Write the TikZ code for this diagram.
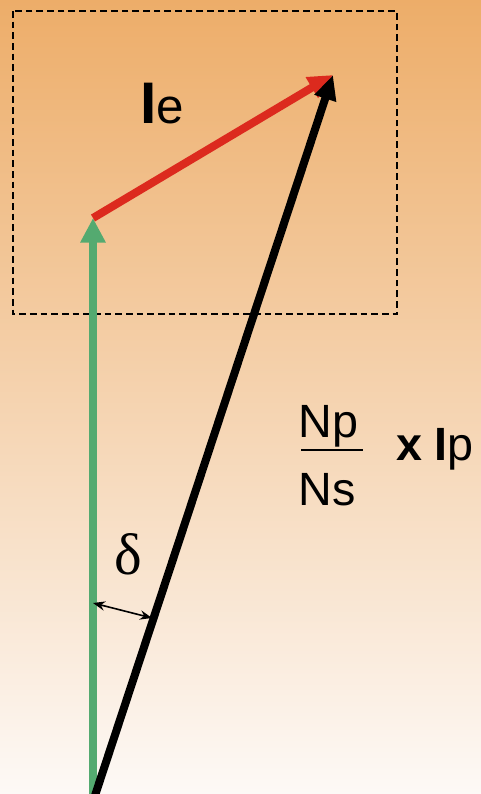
\documentclass[tikz,border=0pt]{standalone}
\usepackage{fontspec}
\setmainfont{Liberation Sans}
\newfontfamily\serifdelta{Liberation Serif}
\usetikzlibrary{arrows.meta}
\definecolor{bgtop}{RGB}{237,173,105}
\definecolor{bgbot}{RGB}{253,249,246}
\definecolor{vgreen}{RGB}{84,170,112}
\definecolor{vred}{RGB}{220,42,30}
\tikzset{
  vec/.style={line width=6pt},
  lbl/.style={inner sep=0pt, outer sep=0pt, text=black},
  ratio/.style={lbl, anchor=base west, font=\fontsize{35}{35}\selectfont},
}
\begin{document}
\begin{tikzpicture}[x=0.75pt,y=-0.75pt]
\useasboundingbox (0,0) rectangle (481,794);
\shade[top color=bgtop, bottom color=bgbot] (0,0) rectangle (481,794);
\draw[black, line width=1.1pt, dash pattern=on 5pt off 3pt] (13,11) rectangle (397,314);
% points
\coordinate (O) at (93,797);
\coordinate (G) at (93,218);
\coordinate (T) at (333,75);
\coordinate (Ob) at (94.5,797);
% vectors
\draw[vec, vgreen, -{Triangle[length=18.5pt,width=18pt]}] (O) -- (G);
\draw[vec, vred, -{Triangle[length=18.5pt,width=17pt]}] (G) -- (T);
\draw[vec, black, -{Triangle[length=18.5pt,width=16pt]}] (Ob) -- (T);
% labels
\node[lbl, anchor=base west] (Ie) at (140,123) {\fontsize{44}{44}\selectfont\textbf{I}\fontsize{37}{37}\selectfont e};
\node[ratio] (Np) at (298.5,437) {Np};
\node[ratio] (Ns) at (298.5,505) {Ns};
\coordinate (fl) at (301,450);
\coordinate (fr) at (363,450);
\draw[black, line width=2.2pt] (fl) -- (fr);
\node[ratio] (xIp) at (396,460) {\textbf{x I}p};
\node[lbl, anchor=base] (delta) at (128,574) {\serifdelta\fontsize{44}{44}\selectfont δ};
% angle arrow
\coordinate (da) at (93,603);
\coordinate (db) at (152,618);
\draw[black, line width=1.2pt, {Stealth[length=9pt,width=7pt]}-{Stealth[length=9pt,width=7pt]}] (da) -- (db);
\end{tikzpicture}
\end{document}
